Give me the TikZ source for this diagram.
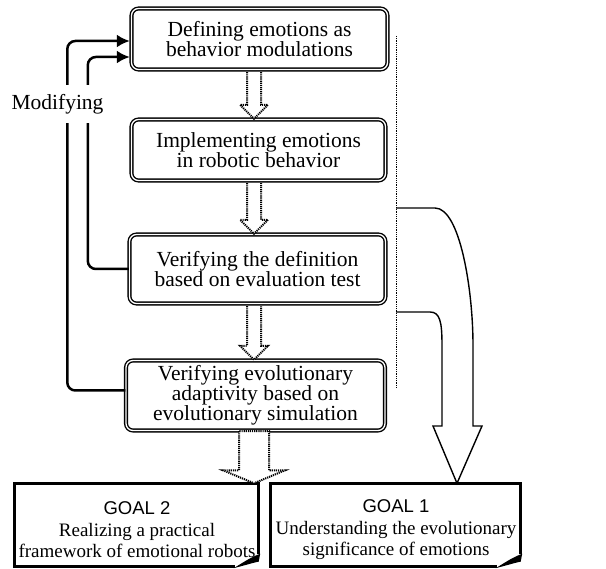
\documentclass[tikz,border=0pt]{standalone}
\usepackage{fontspec}
\setmainfont{Liberation Serif}
\newfontfamily\goalfont{Liberation Sans}
\usetikzlibrary{calc,arrows.meta,positioning}
\tikzset{
  procbox/.style={draw, line width=1.4pt, double=white, double distance=1.3pt,
    rounded corners=7pt, align=center, inner sep=0pt,
    font=\fontsize{21.5}{20}\selectfont},
  goalbox/.style={inner sep=0pt},
  goaltext/.style={align=center, inner sep=0pt, font=\fontsize{19}{21.5}\selectfont},
  goalframe/.style={line width=3pt, line join=miter},
  fbline/.style={line width=2.5pt, rounded corners=8pt, -{Latex[length=13pt,width=13pt]}},
  dotarrow/.style={dash pattern=on 1.2pt off 0.9pt, line width=2pt, fill=white},
  bigarrow/.style={line width=1.4pt, line join=miter},
  bracketline/.style={densely dotted, line width=0.8pt}
}
\newcommand\goalhead[1]{{\goalfont\fontsize{18.5}{21}\selectfont GOAL\ #1}}

\begin{document}
\begin{tikzpicture}[x=1pt, y=-1pt]
\useasboundingbox (0,0) rectangle (606,569);
% the four steps
\node[procbox, minimum width=256pt, minimum height=61pt] (def) at (259.5,39)
  {Defining emotions as\\behavior modulations};
\node[procbox, minimum width=254pt, minimum height=61pt] (impl) at (258.5,150)
  {Implementing emotions\\in robotic behavior};
\node[procbox, minimum width=256pt, minimum height=69pt] (verdef) at (257.5,269)
  {Verifying the definition\\based on evaluation test};
\node[procbox, minimum width=259pt, minimum height=70pt] (verevo) at (255.5,395.5)
  {Verifying evolutionary\\adaptivity based on\\evolutionary simulation};
\coordinate (axis) at (254,0);

% dotted arrows between steps
\foreach \a/\b in {def/impl,impl/verdef,verdef/verevo}
  \draw[dotarrow] ($(\a.south -| axis)+(-7,2)$) -- ($(\b.north -| axis)+(-7,-14)$)
    -- ($(\b.north -| axis)+(-14,-14)$) -- (\b.north -| axis)
    -- ($(\b.north -| axis)+(14,-14)$) -- ($(\b.north -| axis)+(7,-14)$)
    -- ($(\a.south -| axis)+(7,2)$);

% goals
\node[goalbox, minimum width=244pt, minimum height=83pt] (g2) at (136.5,525) {};
\node[goalbox, minimum width=250pt, minimum height=83pt] (g1) at (395.5,525) {};
\foreach \g in {g2,g1} {
  \draw[goalframe] ($(\g.south east)+(-24,0)$) -- (\g.south west) -- (\g.north west)
    -- (\g.north east) -- ($(\g.south east)+(0,-13)$);
  \fill ($(\g.south east)+(1.5,-13)$) .. controls ($(\g.south east)+(-8,-9)$)
    .. ($(\g.south east)+(-25,1.5)$) -- ($(\g.south east)+(-12,-2)$)
    .. controls ($(\g.south east)+(-5,-4)$) .. ($(\g.south east)+(0,-5)$) -- cycle;
}
\node[goaltext] (g2t) at (137,530)
  {\goalhead{2}\\Realizing a practical\\framework of emotional robots};
\node[goaltext] (g1t) at (396,530)
  {\goalhead{1}\\Understanding the evolutionary\\significance of emotions};

% hollow arrow to goal 2
\draw[dotarrow] ($(verevo.south -| axis)+(-15,0)$) -- ($(g2.north -| axis)+(-15,-13)$)
  -- ($(g2.north -| axis)+(-31,-13)$) -- (g2.north -| axis)
  -- ($(g2.north -| axis)+(31,-13)$) -- ($(g2.north -| axis)+(15,-13)$)
  -- ($(verevo.south -| axis)+(15,0)$) -- cycle;

% bracket and big arrow to goal 1
\coordinate (brtop) at (396,36);
\coordinate (brbot) at (396,388);
\draw[bracketline] (brtop) -- (brbot);
\draw[bigarrow] (brtop |- 0,208) -- (435,208) .. controls (460,208) and (473,290) .. (473,345)
  -- (473,426) -- (482,426) -- (g1.north -| 457,0) -- (433,426) -- (442,426) -- (442,345)
  .. controls (442,322) and (440,312) .. (430,312) -- (brtop |- 0,312);

% modifying loops
\draw[fbline] ($(verevo.west)+(0,-5)$) -- ++(-58,0) |- ($(def.west)+(-1,2)$);
\draw[fbline] (verdef.west) -- ++(-41,0) |- ($(def.west)+(-1,18)$);
\node[fill=white, inner xsep=1pt, inner ysep=9pt, font=\fontsize{21.5}{21}\selectfont]
  (mod) at (57.5,104) {Modifying};
\end{tikzpicture}
\end{document}
